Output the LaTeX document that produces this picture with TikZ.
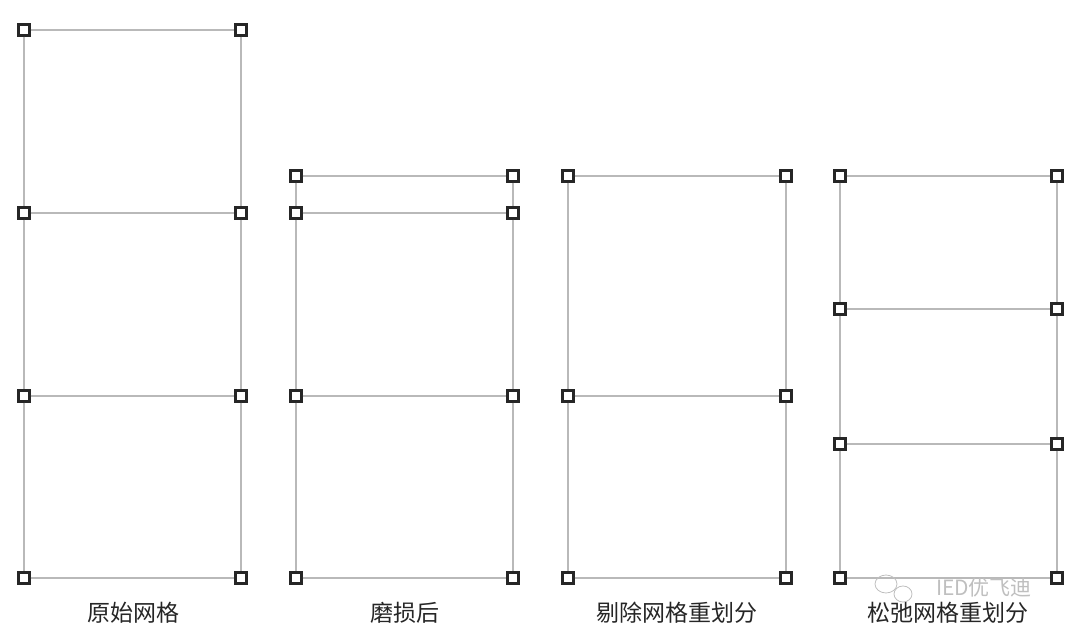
\documentclass[tikz,border=0pt]{standalone}
\usepackage{fontspec}
\newfontfamily\cjk{Noto Sans CJK SC}
\definecolor{meshgray}{RGB}{185,185,185}
\tikzset{
	knot/.style={draw=black!85, fill=white, line width=2.4pt, minimum size=11pt, inner sep=0pt},
	edge/.style={draw=meshgray, line width=1.8pt},
	caption/.style={font=\cjk\fontsize{23}{26}\selectfont, text=black!85}
}

\begin{document}
\begin{tikzpicture}[x=1pt,y=-1pt]
	\useasboundingbox (0,0) rectangle (1080,644);
	% original mesh
	\node[knot] (a1l) at (24,30){};
	\node[knot] (a1r) at (241,30){};
	\node[knot] (a2l) at (24,213){};
	\node[knot] (a2r) at (241,213){};
	\node[knot] (a3l) at (24,396){};
	\node[knot] (a3r) at (241,396){};
	\node[knot] (a4l) at (24,578){};
	\node[knot] (a4r) at (241,578){};
	\draw[edge] (a1l) -- (a1r);
	\draw[edge] (a2l) -- (a2r);
	\draw[edge] (a3l) -- (a3r);
	\draw[edge] (a4l) -- (a4r);
	\draw[edge] (a1l) -- (a2l) (a2l) -- (a3l) (a3l) -- (a4l);
	\draw[edge] (a1r) -- (a2r) (a2r) -- (a3r) (a3r) -- (a4r);
	\node[caption] (ta) at (133,613){原始网格};
	% worn
	\node[knot] (b1l) at (296,176){};
	\node[knot] (b1r) at (513,176){};
	\node[knot] (b2l) at (296,213){};
	\node[knot] (b2r) at (513,213){};
	\node[knot] (b3l) at (296,396){};
	\node[knot] (b3r) at (513,396){};
	\node[knot] (b4l) at (296,578){};
	\node[knot] (b4r) at (513,578){};
	\draw[edge] (b1l) -- (b1r);
	\draw[edge] (b2l) -- (b2r);
	\draw[edge] (b3l) -- (b3r);
	\draw[edge] (b4l) -- (b4r);
	\draw[edge] (b1l) -- (b2l) (b2l) -- (b3l) (b3l) -- (b4l);
	\draw[edge] (b1r) -- (b2r) (b2r) -- (b3r) (b3r) -- (b4r);
	\node[caption] (tb) at (405,613){磨损后};
	% remove + remesh
	\node[knot] (c1l) at (568,176){};
	\node[knot] (c1r) at (786,176){};
	\node[knot] (c2l) at (568,396){};
	\node[knot] (c2r) at (786,396){};
	\node[knot] (c3l) at (568,578){};
	\node[knot] (c3r) at (786,578){};
	\draw[edge] (c1l) -- (c1r);
	\draw[edge] (c2l) -- (c2r);
	\draw[edge] (c3l) -- (c3r);
	\draw[edge] (c1l) -- (c2l) (c2l) -- (c3l);
	\draw[edge] (c1r) -- (c2r) (c2r) -- (c3r);
	\node[caption] (tc) at (677,613){剔除网格重划分};
	% relaxed
	\node[knot] (d1l) at (840,176){};
	\node[knot] (d1r) at (1057,176){};
	\node[knot] (d2l) at (840,309){};
	\node[knot] (d2r) at (1057,309){};
	\node[knot] (d3l) at (840,444){};
	\node[knot] (d3r) at (1057,444){};
	\node[knot] (d4l) at (840,578){};
	\node[knot] (d4r) at (1057,578){};
	\draw[edge] (d1l) -- (d1r);
	\draw[edge] (d2l) -- (d2r);
	\draw[edge] (d3l) -- (d3r);
	\draw[edge] (d4l) -- (d4r);
	\draw[edge] (d1l) -- (d2l) (d2l) -- (d3l) (d3l) -- (d4l);
	\draw[edge] (d1r) -- (d2r) (d2r) -- (d3r) (d3r) -- (d4r);
	\node[caption] (td) at (948,613){松弛网格重划分};
	% watermark
	\draw[black!25, line width=0.8pt] (886,584) ellipse (11 and 9);
	\draw[black!25, line width=0.8pt, fill=white] (903,594) ellipse (9 and 8);
	\node[font=\cjk\fontsize{21}{24}\selectfont, text=black!25] (wm) at (984,588){IED优飞迪};
\end{tikzpicture}
\end{document}
